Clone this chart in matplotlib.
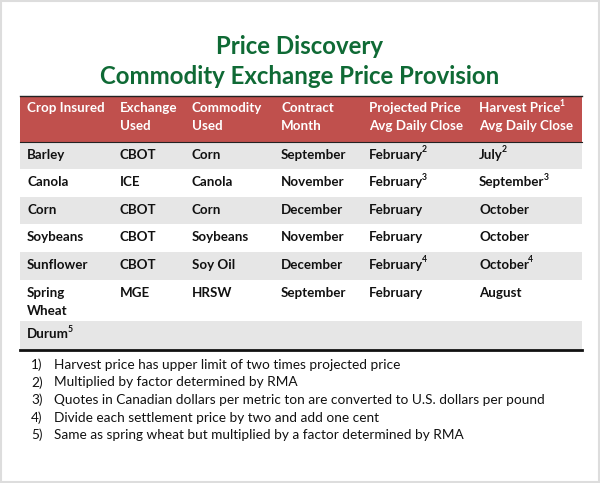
import matplotlib
matplotlib.use("Agg")
import matplotlib.pyplot as plt
from matplotlib.patches import Rectangle

# Datos de la tabla
title_lines = ["Price Discovery", "Commodity Exchange Price Provision"]
headers = [["Crop Insured"], ["Exchange", "Used"], ["Commodity", "Used"],
           ["Contract", "Month"], ["Projected Price", "Avg Daily Close"],
           ["Harvest Price", "Avg Daily Close"]]
header_sups = ["", "", "", "", "", "1"]

crops = [["Barley"], ["Canola"], ["Corn"], ["Soybeans"], ["Sunflower"], ["Spring", "Wheat"], ["Durum"]]
crop_sups = ["", "", "", "", "", "", "5"]
exchanges = ["CBOT", "ICE", "CBOT", "CBOT", "CBOT", "MGE", ""]
commodities = ["Corn", "Canola", "Corn", "Soybeans", "Soy Oil", "HRSW", ""]
contract_months = ["September", "November", "December", "November", "December", "September", ""]
projected = ["February", "February", "February", "February", "February", "February", ""]
projected_sups = ["2", "3", "", "", "4", "", ""]
harvest = ["July", "September", "October", "October", "October", "August", ""]
harvest_sups = ["2", "3", "", "", "4", "", ""]

footnotes = [
    "Harvest price has upper limit of two times projected price",
    "Multiplied by factor determined by RMA",
    "Quotes in Canadian dollars per metric ton are converted to U.S. dollars per pound",
    "Divide each settlement price by two and add one cent",
    "Same as spring wheat but multiplied by a factor determined by RMA",
]

# Estilo
FONT = "Lato"
GREEN = "#0F6A35"
RED = "#C0504D"
GRAY = "#E6E6E6"
TXT = "#111111"

fig = plt.figure(figsize=(6, 4.83), dpi=100)
ax = fig.add_axes([0, 0, 1, 1])
ax.set_xlim(0, 600)
ax.set_ylim(483, 0)
ax.axis("off")

# marco gris claro
ax.add_patch(Rectangle((0.5, 0.5), 598, 481.5, fill=False, ec="#DDDDDD", lw=1.5))

renderer = fig.canvas.get_renderer()


def put(x, y, s, sup="", size=9.6, weight="bold", color=TXT):
    t = ax.text(x, y, s, fontsize=size, fontweight=weight, color=color,
                family=FONT, va="center", ha="left")
    if sup:
        bb = t.get_window_extent(renderer)
        x1 = ax.transData.inverted().transform((bb.x1, bb.y0))[0]
        ax.text(x1 - 1.0, y - 5, sup, fontsize=size * 0.65, fontweight=weight,
                color=color, family=FONT, va="center", ha="left")


# Titulo
for i, line in enumerate(title_lines):
    ax.text(300, 46 + i * 31, line, fontsize=17.3, fontweight="bold", color=GREEN,
            family=FONT, ha="center", va="center")

# Encabezado
left, right = 20, 582
ax.add_patch(Rectangle((left, 96), right - left, 46, color=RED, lw=0))
ax.plot([left, right], [96, 96], color="#222222", lw=1)
ax.plot([left, right], [142, 142], color="#222222", lw=0.8)

col_x = [27, 120, 192, 281, 369, 479]
for j, (lines, sup) in enumerate(zip(headers, header_sups)):
    for k, line in enumerate(lines):
        put(col_x[j], 108 + k * 18, line, sup if k == 0 else "", color="white")

# Filas
row_edges = [142, 169, 197, 224, 252, 280, 321, 349]
for i in range(len(crops)):
    top, bot = row_edges[i], row_edges[i + 1]
    if i % 2 == 0:
        ax.add_patch(Rectangle((left, top), right - left, bot - top, color=GRAY, lw=0))
    y0 = top + 13
    for k, line in enumerate(crops[i]):
        put(col_x[0], y0 + k * 18, line, crop_sups[i] if k == len(crops[i]) - 1 else "")
    put(col_x[1], y0, exchanges[i])
    put(col_x[2], y0, commodities[i])
    put(col_x[3], y0, contract_months[i])
    put(col_x[4], y0, projected[i], projected_sups[i])
    put(col_x[5], y0, harvest[i], harvest_sups[i])

ax.plot([left, right], [349.5, 349.5], color="#111111", lw=2)

# Notas
for i, note in enumerate(footnotes):
    y = 365 + i * 17.5
    ax.text(31, y, f"{i + 1})", fontsize=9.8, color=TXT, family=FONT, va="center")
    ax.text(54, y, note, fontsize=9.8, color=TXT, family=FONT, va="center")

fig.savefig("out.png", dpi=100)
